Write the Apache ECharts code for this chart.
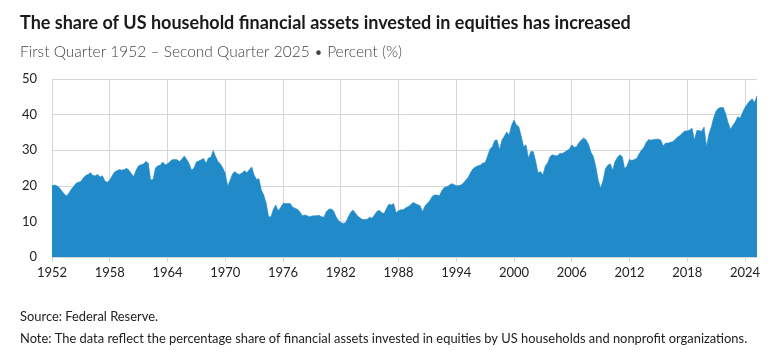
<!DOCTYPE html>
<html>
<head>
<meta charset="utf-8">
<script src="https://cdn.jsdelivr.net/npm/echarts@6/dist/echarts.min.js"></script>
<style>
  html, body { margin: 0; padding: 0; background: #ffffff; }
  #chart { width: 780px; height: 355px; }
</style>
</head>
<body>
<div id="chart"></div>
<script>
// Quarterly share (%) of US household financial assets invested in equities, 1952Q1 - 2025Q2
const share1950s = [
  20.0, 20.2, 20.0, 19.5,  18.6, 17.8, 17.1, 17.9,  19.0, 19.8, 20.7, 21.0,
  21.2, 22.2, 22.9, 23.2,  23.7, 22.9, 22.8, 23.2,  22.5, 22.8, 21.3, 21.0,
  21.6, 22.8, 23.9, 24.2,  24.6, 24.4, 24.6, 24.9
];
const share1960s = [
  24.4, 23.4, 22.6, 24.5,  25.6, 25.9, 26.1, 26.8,  26.4, 21.6, 21.8, 25.0,
  25.6, 25.8, 26.7, 25.9,  26.1, 26.8, 27.3, 27.4,  27.3, 26.8, 27.5, 28.4,
  27.4, 26.2, 24.4, 25.0,  26.7, 27.0, 27.3, 27.7,  26.3, 27.8, 28.0, 29.9,
  28.2, 26.8, 26.1, 25.0
];
const share1970s = [
  23.5, 19.9, 21.5, 23.3,  24.0, 23.4, 23.2, 23.6,  24.2, 23.7, 24.5, 25.3,
  23.0, 21.8, 22.0, 18.8,  17.4, 15.2, 11.3, 11.3,  13.4, 14.6, 13.0, 13.9,
  15.0, 15.0, 15.0, 15.0,  14.0, 13.7, 13.4, 12.7,  11.6, 11.8, 11.6, 11.3,
  11.5, 11.6, 11.6, 11.7
];
const share1980s = [
  11.3, 11.2, 12.7, 13.4,  13.5, 13.0, 11.4, 10.3,  9.7, 9.4, 9.6, 11.0,
  12.4, 13.2, 12.4, 11.5,  11.0, 10.5, 10.5, 10.6,  11.2, 10.9, 11.8, 12.8,
  13.1, 12.5, 12.2, 13.6,  14.8, 14.6, 15.0, 12.4,  13.0, 13.3, 13.3, 13.8,
  14.1, 14.6, 15.3, 15.0
];
const share1990s = [
  14.7, 14.4, 12.7, 14.3,  15.1, 15.8, 17.0, 17.4,  17.4, 17.2, 18.6, 19.5,
  19.7, 20.1, 20.6, 20.4,  20.0, 20.1, 20.2, 20.8,  21.6, 22.4, 23.8, 24.8,
  25.3, 25.6, 25.8, 26.4,  26.5, 28.3, 30.3, 31.0,  32.7, 32.9, 30.1, 32.9,
  33.9, 35.1, 34.3, 37.0
];
const share2000s = [
  38.5, 37.1, 36.6, 34.0,  31.0, 31.5, 27.8, 29.6,  29.6, 27.0, 23.6, 24.0,
  23.0, 25.5, 26.5, 28.2,  28.7, 28.5, 28.4, 29.1,  29.1, 29.4, 29.9, 30.3,
  31.5, 30.8, 31.0, 32.1,  32.9, 33.4, 32.9, 31.6,  29.4, 28.2, 25.4, 21.6,
  19.3, 21.5, 24.8, 25.8
];
const share2010s = [
  26.2, 24.4, 26.8, 28.0,  28.7, 28.2, 24.8, 25.6,  27.4, 27.1, 27.4, 27.7,
  29.0, 30.0, 30.8, 32.2,  33.0, 32.8, 33.0, 33.1,  33.1, 32.9, 31.2, 32.0,
  32.0, 32.2, 32.4, 33.0,  33.7, 34.1, 34.8, 35.4,  35.4, 35.7, 36.2, 32.9,
  35.5, 35.5, 35.3, 36.5
];
const share2020s = [
  31.0, 34.5, 36.5, 39.2,  41.0, 41.8, 42.0, 42.0,  40.2, 37.7, 35.9, 37.0,
  38.0, 39.4, 39.0, 40.6,  42.0, 43.0, 43.9, 44.4,  43.4, 45.3
];

const firstYear = 1952;
const yTicks = [0, 10, 20, 30, 40, 50];
const tickEveryYears = 6;

const values = [].concat(share1950s, share1960s, share1970s, share1980s,
                         share1990s, share2000s, share2010s, share2020s);
const quarters = values.map((_, i) => (firstYear + Math.floor(i / 4)) + ' Q' + (i % 4 + 1));

const titleText = 'The share of US household financial assets invested in equities has increased';
const subtitleText = 'First Quarter 1952 \u2013 Second Quarter 2025 \u2022 Percent (%)';
const sourceText = 'Source: Federal Reserve.';
const noteText = 'Note: The data reflect the percentage share of financial assets invested in equities by US households and nonprofit organizations.';

const FONT = 'Lato, "Open Sans", sans-serif';
const GRID = '#d6d6d6';
const AREA = '#218ac8';
const step = tickEveryYears * 4;
const onTick = (idx) => idx % step === 0;

const chart = echarts.init(document.getElementById('chart'), null, { renderer: 'canvas' });
chart.setOption({
  animation: false,
  backgroundColor: '#ffffff',
  title: [
    { text: titleText, left: 15, top: 7,
      textStyle: { fontFamily: FONT, fontSize: 18, fontWeight: 'bold', color: '#1a1a1a', lineHeight: 22 } },
    { text: subtitleText, left: 15, top: 36,
      textStyle: { fontFamily: FONT, fontSize: 15.5, fontWeight: 300, color: '#444444', lineHeight: 22 } },
    { text: sourceText, left: 15, top: 304,
      textStyle: { fontFamily: FONT, fontSize: 12.9, fontWeight: 'normal', color: '#222222', lineHeight: 16 } },
    { text: noteText, left: 15, top: 326,
      textStyle: { fontFamily: FONT, fontSize: 12.9, fontWeight: 'normal', color: '#222222', lineHeight: 16 } }
  ],
  grid: { left: 52, right: 23, top: 79, bottom: 98, containLabel: false, outerBoundsMode: 'none' },
  xAxis: {
    type: 'category',
    data: quarters,
    boundaryGap: false,
    axisLine: { show: false },
    axisTick: { show: true, interval: onTick, length: 5, lineStyle: { color: GRID } },
    axisLabel: {
      interval: onTick,
      margin: 9,
      fontFamily: FONT, fontSize: 13, color: '#222222',
      formatter: v => v.split(' ')[0]
    },
    splitLine: { show: true, interval: onTick, lineStyle: { color: GRID, width: 1 } }
  },
  yAxis: {
    type: 'value',
    min: yTicks[0],
    max: yTicks[yTicks.length - 1],
    interval: yTicks[1] - yTicks[0],
    axisLine: { show: false },
    axisTick: { show: false },
    axisLabel: { margin: 15, fontFamily: FONT, fontSize: 13, color: '#222222' },
    splitLine: { show: true, lineStyle: { color: GRID, width: 1 } }
  },
  series: [{
    type: 'line',
    data: values,
    showSymbol: false,
    symbol: 'none',
    lineStyle: { width: 0.6, color: AREA },
    areaStyle: { color: AREA, opacity: 1 },
    z: 3
  }]
});
</script>
</body>
</html>
